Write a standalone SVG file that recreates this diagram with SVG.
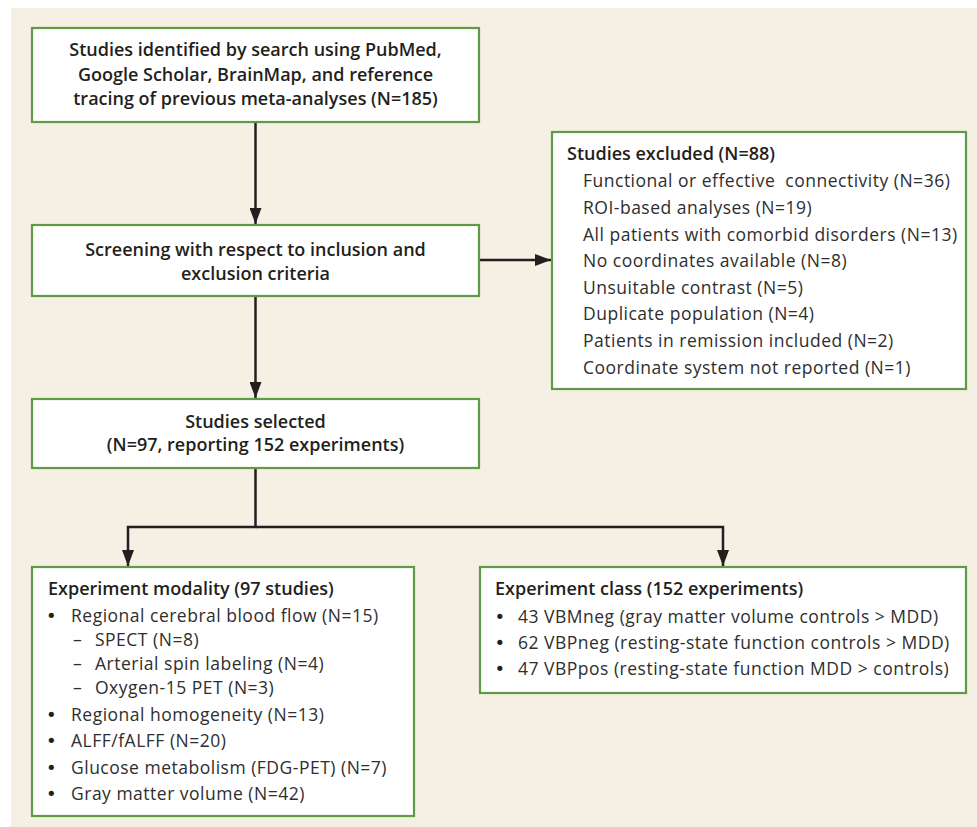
<svg xmlns="http://www.w3.org/2000/svg" width="977" height="827" viewBox="0 0 977 827">
<style>
.box{fill:#ffffff;stroke:#5f9a45;stroke-width:2.2}
.hd{font-family:"Open Sans",Lato,"Liberation Sans",sans-serif;font-weight:600;font-size:18px;fill:#231f20}
.ctr{text-anchor:middle}
.it{font-family:"Open Sans",Lato,"Liberation Sans",sans-serif;font-weight:400;font-size:17.5px;letter-spacing:0.5px;fill:#2e2e2e}
.bul{font-family:"DejaVu Sans",sans-serif;font-size:18px;fill:#231f20}
.con{fill:none;stroke:#231f20;stroke-width:2.5}
</style>
<defs>
<marker id="ah" viewBox="0 0 16 12" refX="16" refY="6" markerWidth="16" markerHeight="12" markerUnits="userSpaceOnUse" orient="auto">
<path d="M0,0 L16,6 L0,12 Z" fill="#231f20"/>
</marker>
</defs>
<rect x="11" y="8" width="966" height="819" fill="#f6efe4"/>
<g id="connectors">
<path class="con" d="M255.5,122 V224" marker-end="url(#ah)"/>
<path class="con" d="M479,260 H551" marker-end="url(#ah)"/>
<path class="con" d="M255.5,296 V398" marker-end="url(#ah)"/>
<path class="con" d="M255.5,468 V527 H128 V566" marker-end="url(#ah)"/>
<path class="con" d="M255.5,527 H723 V566" marker-end="url(#ah)"/>
</g>
<g id="identified">
<rect class="box" x="32" y="28" width="447" height="94"/>
<text class="hd ctr" x="255.5" y="56">Studies identified by search using PubMed,</text>
<text class="hd ctr" x="255.5" y="80.5">Google Scholar, BrainMap, and reference</text>
<text class="hd ctr" x="255.5" y="105">tracing of previous meta-analyses (N=185)</text>
</g>
<g id="screening">
<rect class="box" x="32" y="225" width="447" height="71"/>
<text class="hd ctr" x="255.5" y="255.5">Screening with respect to inclusion and</text>
<text class="hd ctr" x="255.5" y="279.5">exclusion criteria</text>
</g>
<g id="selected">
<rect class="box" x="32" y="399" width="447" height="69"/>
<text class="hd ctr" x="255.5" y="427.5">Studies selected</text>
<text class="hd ctr" x="255.5" y="450.5">(N=97, reporting 152 experiments)</text>
</g>
<g id="excluded">
<rect class="box" x="552" y="132" width="414" height="257"/>
<text class="hd" x="567" y="160">Studies excluded (N=88)</text>
<text class="it" x="583" y="187.3" xml:space="preserve">Functional or effective  connectivity (N=36)</text>
<text class="it" x="583" y="213.9">ROI-based analyses (N=19)</text>
<text class="it" x="583" y="240.5">All patients with comorbid disorders (N=13)</text>
<text class="it" x="583" y="267.1">No coordinates available (N=8)</text>
<text class="it" x="583" y="293.7">Unsuitable contrast (N=5)</text>
<text class="it" x="583" y="320.3">Duplicate population (N=4)</text>
<text class="it" x="583" y="346.9">Patients in remission included (N=2)</text>
<text class="it" x="583" y="373.5">Coordinate system not reported (N=1)</text>
</g>
<g id="modality">
<rect class="box" x="32" y="567" width="382" height="249"/>
<text class="hd" x="48" y="595">Experiment modality (97 studies)</text>
<text class="bul" x="46" y="622">•</text>
<text class="it" x="71" y="622">Regional cerebral blood flow (N=15)</text>
<text class="it" x="73" y="646">–</text>
<text class="it" x="95" y="646">SPECT (N=8)</text>
<text class="it" x="73" y="670">–</text>
<text class="it" x="95" y="670">Arterial spin labeling (N=4)</text>
<text class="it" x="73" y="694">–</text>
<text class="it" x="95" y="694">Oxygen-15 PET (N=3)</text>
<text class="bul" x="46" y="720.5">•</text>
<text class="it" x="71" y="720.5">Regional homogeneity (N=13)</text>
<text class="bul" x="46" y="747">•</text>
<text class="it" x="71" y="747">ALFF/fALFF (N=20)</text>
<text class="bul" x="46" y="773.5">•</text>
<text class="it" x="71" y="773.5">Glucose metabolism (FDG-PET) (N=7)</text>
<text class="bul" x="46" y="800">•</text>
<text class="it" x="71" y="800">Gray matter volume (N=42)</text>
</g>
<g id="class">
<rect class="box" x="480" y="567" width="486" height="126"/>
<text class="hd" x="495" y="595">Experiment class (152 experiments)</text>
<text class="bul" x="494.5" y="623">•</text>
<text class="it" x="518" y="623">43 VBMneg (gray matter volume controls &gt; MDD)</text>
<text class="bul" x="494.5" y="649">•</text>
<text class="it" x="518" y="649">62 VBPneg (resting-state function controls &gt; MDD)</text>
<text class="bul" x="494.5" y="675">•</text>
<text class="it" x="518" y="675">47 VBPpos (resting-state function MDD &gt; controls)</text>
</g>
</svg>
